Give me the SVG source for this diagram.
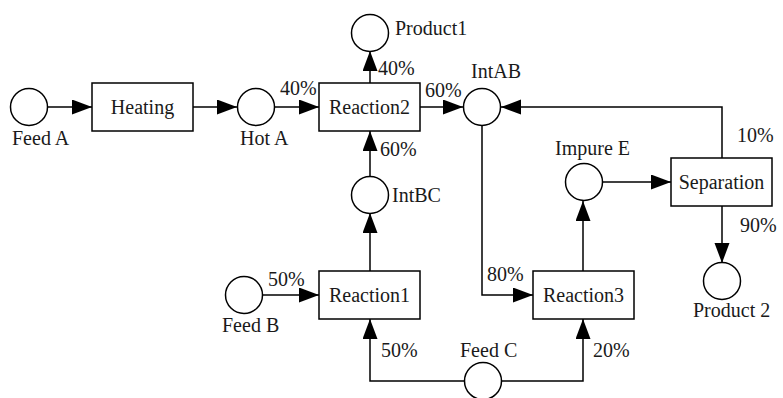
<svg xmlns="http://www.w3.org/2000/svg" width="783" height="398" viewBox="0 0 783 398">
<defs>
<marker id="arr" markerUnits="userSpaceOnUse" markerWidth="20" markerHeight="16" refX="20" refY="7.5" orient="auto">
<path d="M0,0 L20,7.5 L0,15 z" fill="#000"/>
</marker>
<style>
text{font-family:'Liberation Serif','DejaVu Serif',serif;font-size:20px;fill:#1a1a1a}
.c{text-anchor:middle}
.n circle{fill:#fff;stroke:#000;stroke-width:1.5}
.n rect{fill:#fff;stroke:#000;stroke-width:1.5}
#connectors path{fill:none;stroke:#000;stroke-width:1.5;marker-end:url(#arr)}
</style>
</defs>
<rect width="783" height="398" fill="#fff"/>
<g id="connectors">
<path d="M48,107 H92"/>
<path d="M193,107 H237"/>
<path d="M275,107 H319"/>
<path d="M370,83 V51"/>
<path d="M420,107 H463"/>
<path d="M722,158 V107 H501"/>
<path d="M370,177 V131"/>
<path d="M370,271 V213"/>
<path d="M262,295 H319"/>
<path d="M464,381 H370 V319"/>
<path d="M502,381 H583 V319"/>
<path d="M482,125 V295 H533"/>
<path d="M583,271 V201"/>
<path d="M602,182 H671"/>
<path d="M722,206 V263"/>
</g>
<g id="feedA" class="n"><circle cx="29" cy="107" r="18.5"/><text x="12" y="145">Feed A</text></g>
<g id="heating" class="n"><rect x="92" y="83" width="101" height="48"/><text class="c" x="142.5" y="114">Heating</text></g>
<g id="hotA" class="n"><circle cx="256" cy="107" r="18.5"/><text x="240" y="145">Hot A</text></g>
<g id="reaction2" class="n"><rect x="319" y="83" width="101" height="48"/><text class="c" x="369.5" y="114">Reaction2</text></g>
<g id="product1" class="n"><circle cx="370" cy="33" r="18.5"/><text x="395" y="35">Product1</text></g>
<g id="intAB" class="n"><circle cx="482" cy="107" r="18.5"/><text x="471" y="78">IntAB</text></g>
<g id="intBC" class="n"><circle cx="370" cy="195" r="18.5"/><text x="392" y="202">IntBC</text></g>
<g id="feedB" class="n"><circle cx="244" cy="295" r="18.5"/><text x="222" y="332">Feed B</text></g>
<g id="reaction1" class="n"><rect x="319" y="271" width="101" height="48"/><text class="c" x="369.5" y="302">Reaction1</text></g>
<g id="feedC" class="n"><circle cx="483" cy="381" r="18.5"/><text x="460" y="357">Feed C</text></g>
<g id="reaction3" class="n"><rect x="533" y="271" width="101" height="48"/><text class="c" x="583.5" y="302">Reaction3</text></g>
<g id="impureE" class="n"><circle cx="584" cy="182" r="18.5"/><text x="555" y="155">Impure E</text></g>
<g id="separation" class="n"><rect x="671" y="158" width="101" height="48"/><text class="c" x="721.5" y="189">Separation</text></g>
<g id="product2" class="n"><circle cx="722" cy="281" r="18.5"/><text x="693" y="317">Product 2</text></g>
<g id="labels">
<text x="280" y="95">40%</text>
<text x="378" y="75">40%</text>
<text x="425" y="97">60%</text>
<text x="380" y="156">60%</text>
<text x="737" y="142">10%</text>
<text x="740" y="232">90%</text>
<text x="268" y="286">50%</text>
<text x="487" y="281">80%</text>
<text x="381" y="357">50%</text>
<text x="593" y="357">20%</text>
</g>
</svg>
